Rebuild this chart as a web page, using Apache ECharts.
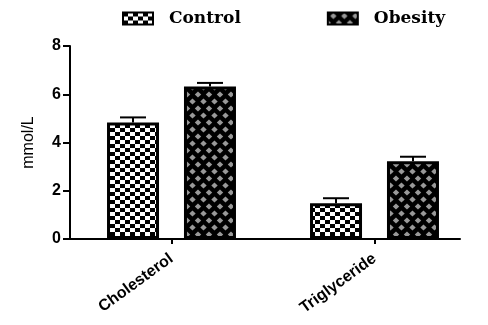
<!DOCTYPE html>
<html>
<head>
<meta charset="utf-8">
<script src="https://cdn.jsdelivr.net/npm/echarts@6/dist/echarts.min.js"></script>
<style>
  html, body { margin: 0; padding: 0; background: #fff; }
  #chart { width: 488px; height: 325px; }
</style>
</head>
<body>
<div id="chart"></div>
<script>
// Lipid levels by group (mean ± SEM, mmol/L)
const categories = ['Cholesterol', 'Triglyceride'];
const groups = ['Control', 'Obesity'];
const controlMean = [4.83, 1.48];
const controlSem = [0.21, 0.21];
const obesityMean = [6.32, 3.22];
const obesitySem = [0.15, 0.19];
const yTicks = [0, 2, 4, 6, 8];

// Checkerboard fill for the Control bars
function checkerPattern() {
  const c = document.createElement('canvas');
  c.width = 10; c.height = 8;
  const g = c.getContext('2d');
  g.fillStyle = '#fff'; g.fillRect(0, 0, 10, 8);
  g.fillStyle = '#000';
  g.fillRect(0, 0, 5, 4);
  g.fillRect(5, 4, 5, 4);
  return c;
}

// Black lattice with grey diamonds for the Obesity bars
function diamondPattern() {
  const w = 11, h = 14;
  const c = document.createElement('canvas');
  c.width = w; c.height = h;
  const g = c.getContext('2d');
  g.fillStyle = '#000'; g.fillRect(0, 0, w, h);
  g.fillStyle = '#999';
  const diamond = (cx, cy) => {
    g.beginPath();
    g.moveTo(cx - 3.2, cy); g.lineTo(cx, cy - 3);
    g.lineTo(cx + 3.2, cy); g.lineTo(cx, cy + 3);
    g.closePath(); g.fill();
  };
  diamond(5.5, 3.5);
  diamond(0, 10.5);
  diamond(w, 10.5);
  return c;
}

const fills = [
  { image: checkerPattern(), repeat: 'repeat' },
  { image: diamondPattern(), repeat: 'repeat' }
];
const means = [controlMean, obesityMean];
const sems = [controlSem, obesitySem];
const barOffsets = [-38.5, 38.5];

const chart = echarts.init(document.getElementById('chart'), null, { renderer: 'canvas' });

const barSeries = groups.map((name, i) => ({
  name: name,
  type: 'bar',
  xAxisIndex: 0,
  yAxisIndex: 0,
  barWidth: 52,
  barGap: '48%',
  data: means[i],
  itemStyle: { color: fills[i], borderColor: '#000', borderWidth: 3 },
  z: 2
}));

const errorSeries = groups.map((name, i) => ({
  type: 'custom',
  xAxisIndex: 0,
  yAxisIndex: 0,
  z: 3,
  silent: true,
  encode: { x: 0, y: 1 },
  data: means[i].map((m, k) => [k, m, sems[i][k]]),
  renderItem: function (params, api) {
    const base = api.coord([api.value(0), api.value(1)]);
    const top = api.coord([api.value(0), api.value(1) + api.value(2)]);
    const x = base[0] + barOffsets[i];
    const style = { stroke: '#000', lineWidth: 2 };
    return {
      type: 'group',
      children: [
        { type: 'line', shape: { x1: x, y1: base[1], x2: x, y2: top[1] }, style: style },
        { type: 'line', shape: { x1: x - 13, y1: top[1], x2: x + 13, y2: top[1] }, style: style }
      ]
    };
  }
}));

chart.setOption({
  animation: false,
  backgroundColor: '#fff',
  legend: {
    data: groups,
    icon: 'rect',
    left: 122,
    top: 10,
    padding: 0,
    itemWidth: 30,
    itemHeight: 12,
    itemGap: 86,
    textStyle: {
      fontFamily: 'DejaVu Serif',
      fontWeight: 'bold',
      fontSize: 17,
      color: '#000',
      padding: [0, 0, 0, 11]
    }
  },
  grid: [
    { left: 70, right: 12, top: 46, bottom: 86 },
    { left: 70, right: 28, top: 46, bottom: 86 }
  ],
  xAxis: [
    {
      type: 'category',
      gridIndex: 0,
      data: categories,
      axisLine: { show: false },
      axisTick: { show: true, alignWithLabel: true, length: 5, lineStyle: { color: '#000', width: 2 } },
      axisLabel: {
        rotate: 36,
        margin: 18,
        fontFamily: 'Liberation Sans',
        fontSize: 16,
        fontWeight: 'bold',
        color: '#000'
      }
    },
    {
      type: 'value',
      gridIndex: 1,
      min: 0,
      max: 1,
      axisLine: { show: true, lineStyle: { color: '#000', width: 2 } },
      axisTick: { show: false },
      axisLabel: { show: false },
      splitLine: { show: false }
    }
  ],
  yAxis: [
    {
      type: 'value',
      gridIndex: 0,
      min: yTicks[0],
      max: yTicks[yTicks.length - 1],
      interval: yTicks[1] - yTicks[0],
      name: 'mmol/L',
      nameLocation: 'middle',
      nameGap: 33,
      nameTextStyle: { fontFamily: 'Liberation Sans', fontSize: 16, color: '#000' },
      axisLine: { show: true, lineStyle: { color: '#000', width: 2 } },
      axisTick: { show: true, length: 7, lineStyle: { color: '#000', width: 2 } },
      axisLabel: {
        margin: 9,
        fontFamily: 'Liberation Sans',
        fontWeight: 'bold',
        fontSize: 16,
        color: '#000'
      },
      splitLine: { show: false }
    },
    {
      type: 'value',
      gridIndex: 1,
      show: false,
      min: 0,
      max: 1
    }
  ],
  series: barSeries.concat(errorSeries)
});
</script>
</body>
</html>
